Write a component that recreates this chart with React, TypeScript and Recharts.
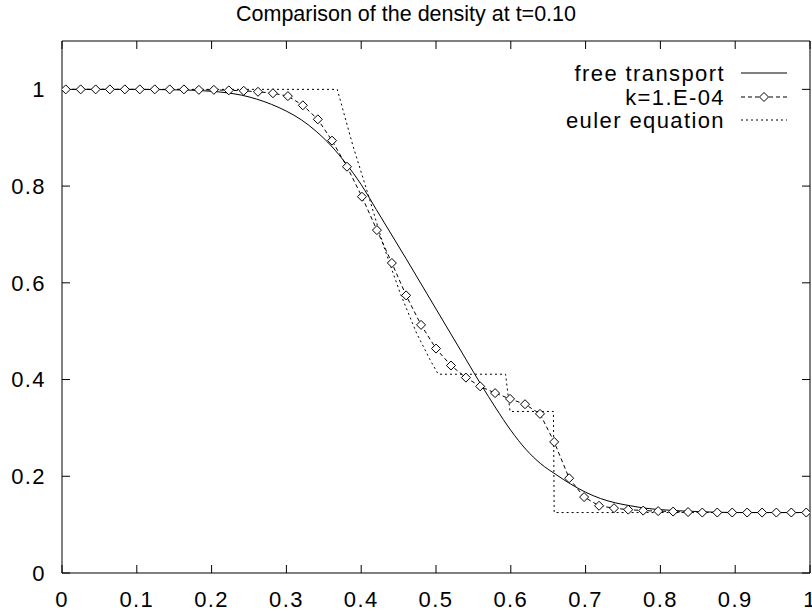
import { LineChart, Line, XAxis, YAxis, Legend } from "recharts";

const W = 812;
const H = 612;
const FONT = '"Liberation Sans", Arial, Helvetica, sans-serif';

// axis ticks
const xTicks = [0, 0.1, 0.2, 0.3, 0.4, 0.5, 0.6, 0.7, 0.8, 0.9, 1];
const yTicks = [0, 0.2, 0.4, 0.6, 0.8, 1];

const seriesNames = ["free transport", "k=1.E-04", "euler equation"];

// free transport (solid)
const ftX = [0, 0.1, 0.15, 0.18, 0.2, 0.22, 0.24, 0.26, 0.28, 0.3, 0.32, 0.34, 0.36, 0.38, 0.4, 0.42, 0.44, 0.46, 0.48, 0.5, 0.52, 0.54, 0.56, 0.58, 0.6, 0.62, 0.64, 0.66, 0.68, 0.7, 0.72, 0.74, 0.76, 0.78, 0.8, 0.85, 0.9, 1.0];
const ftY = [1.0, 1.0, 0.999, 0.998, 0.996, 0.993, 0.988, 0.98, 0.969, 0.955, 0.937, 0.913, 0.883, 0.846, 0.803, 0.752, 0.701, 0.65, 0.598, 0.546, 0.494, 0.442, 0.39, 0.341, 0.295, 0.256, 0.226, 0.204, 0.184, 0.167, 0.154, 0.145, 0.139, 0.134, 0.131, 0.127, 0.125, 0.125];

// k=1.E-04 (dashed with diamonds)
const kX = [0.005, 0.025, 0.045, 0.064, 0.084, 0.104, 0.124, 0.144, 0.163, 0.183, 0.203, 0.223, 0.243, 0.262, 0.282, 0.302, 0.322, 0.342, 0.361, 0.381, 0.401, 0.421, 0.441, 0.46, 0.48, 0.5, 0.52, 0.54, 0.559, 0.579, 0.599, 0.619, 0.639, 0.658, 0.678, 0.698, 0.718, 0.738, 0.757, 0.777, 0.797, 0.817, 0.837, 0.856, 0.876, 0.896, 0.916, 0.936, 0.955, 0.975, 0.995];
const kY = [1, 1, 1, 1, 1, 1, 1, 1, 1, 0.999, 0.999, 0.998, 0.997, 0.995, 0.992, 0.986, 0.967, 0.938, 0.894, 0.84, 0.778, 0.709, 0.641, 0.574, 0.513, 0.464, 0.429, 0.404, 0.386, 0.372, 0.36, 0.349, 0.329, 0.271, 0.196, 0.157, 0.139, 0.134, 0.131, 0.129, 0.128, 0.127, 0.126, 0.125, 0.125, 0.125, 0.125, 0.125, 0.125, 0.125, 0.125];

// euler equation (dotted)
const euX = [0, 0.368, 0.389, 0.41, 0.43, 0.452, 0.474, 0.492, 0.503, 0.593, 0.599, 0.657, 0.658, 1.0];
const euY = [1, 1, 0.883, 0.779, 0.676, 0.579, 0.496, 0.441, 0.411, 0.411, 0.334, 0.334, 0.125, 0.125];

const toPoints = (xs: number[], ys: number[]) => xs.map((x, i) => ({ x, y: ys[i] }));

const dashes = ["", "4 3", "2 3"];

function Diamond({ cx, cy }: { cx?: number; cy?: number }) {
  if (cx == null || cy == null) return null;
  const r = 4.5;
  return (
    <path
      d={`M${cx},${cy - r}L${cx + r},${cy}L${cx},${cy + r}L${cx - r},${cy}Z`}
      fill="#fff"
      stroke="#000"
      strokeWidth={1}
    />
  );
}

const renderDot = (props: any) => <Diamond key={`d-${props.index}`} cx={props.cx} cy={props.cy} />;

// tick lines only, no labels (for the inward gnuplot-style ticks)
const noLabel = () => <g />;

function LegendBox() {
  const rows = [73, 97, 120];
  return (
    <svg width={W} height={140} style={{ display: "block" }}>
      {seriesNames.map((n, i) => (
        <g key={n}>
          <text x={725} y={rows[i]} dy="0.36em" textAnchor="end" fontSize={22} fill="#000">
            {n}
          </text>
          <line x1={741} x2={787} y1={rows[i]} y2={rows[i]} stroke="#000" strokeWidth={1} strokeDasharray={dashes[i]} />
          {i === 1 && <Diamond cx={764} cy={rows[i]} />}
        </g>
      ))}
    </svg>
  );
}

export default function App() {
  const tickStyle = { fill: "#000", fontSize: 22 };
  return (
    <div
      style={{
        position: "absolute",
        left: 0,
        top: 0,
        width: W,
        height: H,
        background: "#fff",
        fontFamily: FONT,
        letterSpacing: "1.4px",
      }}
    >
      <div
        style={{
          position: "absolute",
          left: 106,
          top: 3,
          width: 600,
          textAlign: "center",
          fontSize: 21.5,
          letterSpacing: 0,
          lineHeight: "22px",
          color: "#000",
          zIndex: 2,
        }}
      >
        Comparison of the density at t=0.10
      </div>
      <LineChart width={W} height={H} margin={{ top: 41, right: 2, bottom: 0, left: 0 }}>
        <XAxis
          xAxisId="0"
          type="number"
          dataKey="x"
          domain={[0, 1]}
          allowDataOverflow
          ticks={xTicks}
          interval={0}
          height={39}
          tickLine={false}
          tickSize={0}
          tickMargin={18}
          axisLine={{ stroke: "#000" }}
          tick={tickStyle}
        />
        <XAxis
          xAxisId="bm"
          type="number"
          dataKey="x"
          domain={[0, 1]}
          allowDataOverflow
          ticks={xTicks}
          interval={0}
          orientation="bottom"
          mirror
          tick={noLabel}
          tickSize={8}
          axisLine={false}
          tickLine={{ stroke: "#000" }}
        />
        <XAxis
          xAxisId="top"
          type="number"
          dataKey="x"
          domain={[0, 1]}
          allowDataOverflow
          ticks={xTicks}
          interval={0}
          orientation="top"
          mirror
          tick={noLabel}
          tickSize={8}
          axisLine={{ stroke: "#000" }}
          tickLine={{ stroke: "#000" }}
        />
        <YAxis
          yAxisId="0"
          type="number"
          domain={[0, 1.1]}
          allowDataOverflow
          ticks={yTicks}
          interval={0}
          width={62}
          tickLine={false}
          tickSize={0}
          tickMargin={16}
          axisLine={{ stroke: "#000" }}
          tick={tickStyle}
        />
        <YAxis
          yAxisId="lm"
          type="number"
          domain={[0, 1.1]}
          allowDataOverflow
          ticks={yTicks}
          interval={0}
          orientation="left"
          mirror
          tick={noLabel}
          tickSize={8}
          axisLine={false}
          tickLine={{ stroke: "#000" }}
        />
        <YAxis
          yAxisId="right"
          type="number"
          domain={[0, 1.1]}
          allowDataOverflow
          ticks={yTicks}
          interval={0}
          orientation="right"
          mirror
          tick={noLabel}
          tickSize={8}
          axisLine={{ stroke: "#000" }}
          tickLine={{ stroke: "#000" }}
        />
        <Legend
          layout="horizontal"
          verticalAlign="middle"
          align="center"
          content={() => <LegendBox />}
          wrapperStyle={{ left: 0, top: 0, width: W, height: 140, pointerEvents: "none" }}
        />
        <Line
          data={toPoints(ftX, ftY)}
          dataKey="y"
          name={seriesNames[0]}
          type="monotone"
          stroke="#000"
          strokeWidth={1}
          dot={false}
          activeDot={false}
          isAnimationActive={false}
        />
        <Line
          data={toPoints(kX, kY)}
          dataKey="y"
          name={seriesNames[1]}
          type="linear"
          stroke="#000"
          strokeWidth={1}
          strokeDasharray={dashes[1]}
          dot={renderDot}
          activeDot={false}
          isAnimationActive={false}
        />
        <Line
          data={toPoints(euX, euY)}
          dataKey="y"
          name={seriesNames[2]}
          type="linear"
          stroke="#000"
          strokeWidth={1}
          strokeDasharray={dashes[2]}
          dot={false}
          activeDot={false}
          isAnimationActive={false}
        />
      </LineChart>
    </div>
  );
}
